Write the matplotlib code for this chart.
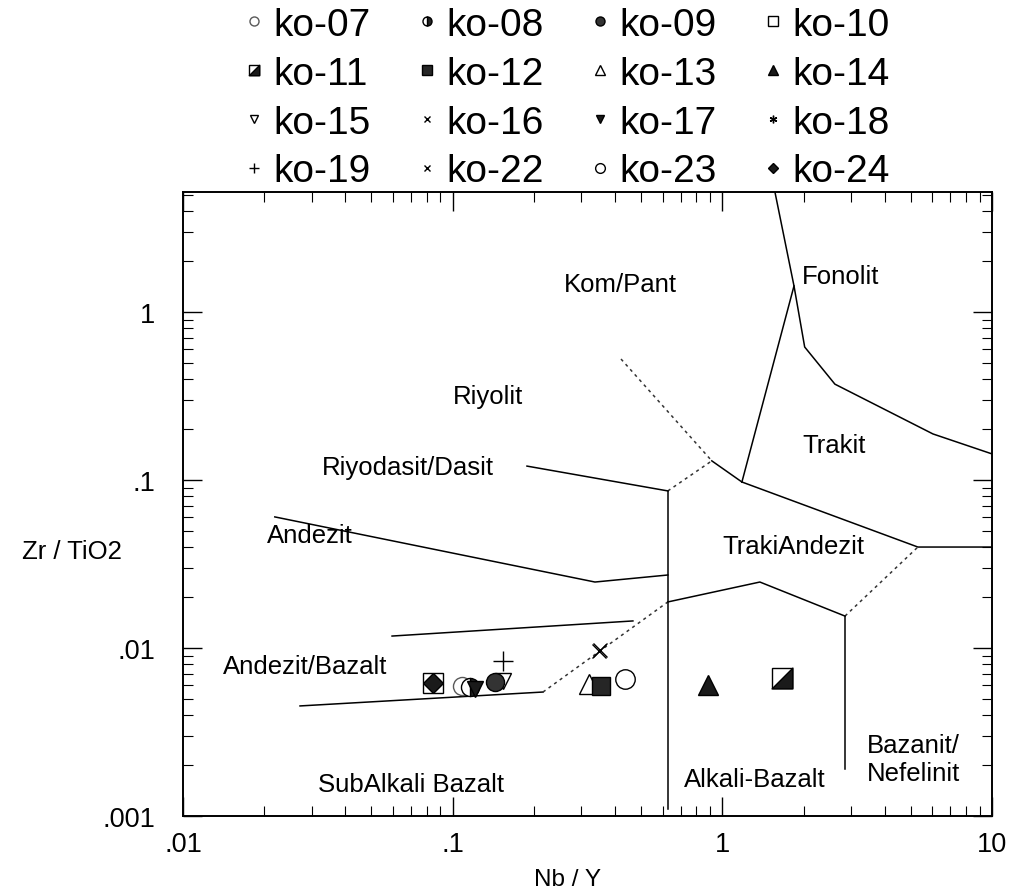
import matplotlib
matplotlib.use('Agg')
import matplotlib.pyplot as plt
from matplotlib.path import Path
from matplotlib.legend_handler import HandlerTuple

plt.rcParams['font.family'] = ['Liberation Sans', 'DejaVu Sans']

# Nb/Y and Zr/TiO2 for each sample
samples = ['ko-07', 'ko-08', 'ko-09', 'ko-10', 'ko-11', 'ko-12', 'ko-13', 'ko-14',
           'ko-15', 'ko-16', 'ko-17', 'ko-18', 'ko-19', 'ko-22', 'ko-23', 'ko-24']
nb_y = [0.108, 0.116, 0.1436, 0.0845, 1.664, 0.355, 0.320, 0.884,
        0.1536, 0.349, 0.121, 0.352, 0.1536, 0.353, 0.435, 0.0845]
zr_tio2 = [0.00594, 0.00586, 0.00628, 0.00620, 0.00663, 0.00594, 0.00610, 0.00603,
           0.00636, 0.00960, 0.00570, 0.00600, 0.00837, 0.00975, 0.00654, 0.00620]

# Winchester & Floyd field boundaries (Nb/Y, Zr/TiO2)
fonolit_x = [1.567, 1.844, 2.02, 2.615, 6.04, 10]
fonolit_y = [5.18, 1.429, 0.619, 0.372, 0.188, 0.143]
trakit_x = [1.844, 1.182]
trakit_y = [1.429, 0.0973]
trakiandezit_top_x = [1.182, 5.31, 10]
trakiandezit_top_y = [0.0973, 0.0399, 0.0399]
kompant_x = [0.421, 0.914]
kompant_y = [0.525, 0.130]
riyolit_step_x = [0.914, 1.182]
riyolit_step_y = [0.130, 0.0973]
riyolit_x = [0.1886, 0.628]
riyolit_y = [0.121, 0.0861]
riyolit_link_x = [0.628, 0.914]
riyolit_link_y = [0.0861, 0.130]
andezit_x = [0.0219, 0.337, 0.628]
andezit_y = [0.0603, 0.0247, 0.0272]
andbaz_x = [0.0596, 0.466]
andbaz_y = [0.01178, 0.01449]
alkali_top_x = [0.628, 1.378, 2.85]
alkali_top_y = [0.0188, 0.0247, 0.01549]
bazanit_link_x = [2.85, 5.31]
bazanit_link_y = [0.01549, 0.0399]
subalk_x = [0.02716, 0.2163]
subalk_y = [0.00452, 0.00547]
subalk_link_x = [0.2163, 0.628]
subalk_link_y = [0.00547, 0.0188]
alkali_left_x = [0.628, 0.628]
alkali_left_y = [0.0861, 0.0011]
bazanit_left_x = [2.85, 2.85]
bazanit_left_y = [0.01549, 0.00191]

fig = plt.figure(figsize=(10.14, 8.95), dpi=100)
ax = fig.add_axes([183/1014, 78/895, 809/1014, 624/895])
ax.set_xscale('log')
ax.set_yscale('log')
ax.set_xlim(0.01, 10)
ax.set_ylim(0.001, 5.18)

solid = dict(color='black', lw=1.1)
dotted = dict(color='0.2', lw=1.1, ls=(0, (2, 2.5)))
ax.plot(fonolit_x, fonolit_y, **solid)
ax.plot(trakit_x, trakit_y, **solid)
ax.plot(trakiandezit_top_x, trakiandezit_top_y, **solid)
ax.plot(kompant_x, kompant_y, **dotted)
ax.plot(riyolit_step_x, riyolit_step_y, **solid)
ax.plot(riyolit_x, riyolit_y, **solid)
ax.plot(riyolit_link_x, riyolit_link_y, **dotted)
ax.plot(andezit_x, andezit_y, **solid)
ax.plot(andbaz_x, andbaz_y, **solid)
ax.plot(alkali_top_x, alkali_top_y, **solid)
ax.plot(bazanit_link_x, bazanit_link_y, **dotted)
ax.plot(subalk_x, subalk_y, **solid)
ax.plot(subalk_link_x, subalk_link_y, **dotted)
ax.plot(alkali_left_x, alkali_left_y, **solid)
ax.plot(bazanit_left_x, bazanit_left_y, **solid)

# half-filled square: lower-right triangle
tri = Path([(1, -1), (1, 1), (-1, -1), (1, -1)], [Path.MOVETO, Path.LINETO, Path.LINETO, Path.CLOSEPOLY])
asterisk = (6, 2, 0)

styles = {
    'ko-07': dict(marker='o', mfc='white', mec='0.35', ms=13, mew=1),
    'ko-08': dict(marker='o', mfc='0.15', mfcalt='white', fillstyle='right', mec='black', ms=13),
    'ko-09': dict(marker='o', mfc='0.2', mec='black', ms=13),
    'ko-10': dict(marker='s', mfc='white', mec='black', ms=15),
    'ko-11': dict(marker='s', mfc='white', mec='black', ms=15),
    'ko-12': dict(marker='s', mfc='0.15', mec='black', ms=13),
    'ko-13': dict(marker='^', mfc='white', mec='black', ms=14),
    'ko-14': dict(marker='^', mfc='0.1', mec='black', ms=14),
    'ko-15': dict(marker='v', mfc='white', mec='black', ms=12),
    'ko-16': dict(marker='x', color='black', ms=10, mew=1),
    'ko-17': dict(marker='v', mfc='0.1', mec='black', ms=12),
    'ko-18': dict(marker=asterisk, color='black', ms=11, mew=1),
    'ko-19': dict(marker='+', color='black', ms=14, mew=1),
    'ko-22': dict(marker='x', color='black', ms=10, mew=1),
    'ko-23': dict(marker='o', mfc='white', mec='black', ms=14),
    'ko-24': dict(marker='D', mfc='0.1', mec='black', ms=10),
}
draw_order = ['ko-10', 'ko-24', 'ko-07', 'ko-08', 'ko-17', 'ko-15', 'ko-09', 'ko-19',
              'ko-13', 'ko-18', 'ko-12', 'ko-16', 'ko-22', 'ko-23', 'ko-14', 'ko-11']
handles = {}
for name in draw_order:
    i = samples.index(name)
    h, = ax.plot([nb_y[i]], [zr_tio2[i]], ls='none', **styles[name])
    handles[name] = h
    if name == 'ko-11':
        t, = ax.plot([nb_y[i]], [zr_tio2[i]], ls='none', marker=tri,
                     mfc='0.1', mec='black', ms=15)
        handles[name] = (h, t)

# rock field names
labels = [
    ('Kom/Pant', 620, 285), ('Fonolit', 841, 277), ('Riyolit', 488, 397),
    ('Trakit', 834, 446), ('Riyodasit/Dasit', 408, 468), ('TrakiAndezit', 793, 547),
    ('Andezit', 310, 536), ('Andezit/Bazalt', 305, 667), ('SubAlkali Bazalt', 411, 785),
    ('Alkali-Bazalt', 755, 780), ('Bazanit/\nNefelinit', 867, 760),
]
for txt, px, py in labels:
    ha = 'left' if txt.startswith('Bazanit') else 'center'
    fig.text(px/1014, 1 - py/895, txt, fontsize=18.5, ha=ha, va='center', linespacing=1.25)

ax.set_xticks([0.01, 0.1, 1, 10])
ax.set_xticklabels(['.01', '.1', '1', '10'])
ax.set_yticks([0.001, 0.01, 0.1, 1])
ax.set_yticklabels(['.001', '.01', '.1', '1'])
ax.tick_params(which='both', direction='in', top=True, right=True, labelsize=19.5)
ax.tick_params(which='major', length=14, width=1)
ax.tick_params(which='minor', length=7, width=0.8)
ax.tick_params(axis='x', which='major', pad=11)
ax.tick_params(axis='y', which='major', pad=20)
for s in ax.spines.values():
    s.set_linewidth(1.4)

fig.text(568/1014, 1 - 880/895, 'Nb / Y', fontsize=17.5, ha='center', va='center')
fig.text(22/1014, 1 - 552/895, 'Zr / TiO2', fontsize=18.5, ha='left', va='center')

# legend laid out row by row in four columns
rows = [['ko-07', 'ko-08', 'ko-09', 'ko-10'],
        ['ko-11', 'ko-12', 'ko-13', 'ko-14'],
        ['ko-15', 'ko-16', 'ko-17', 'ko-18'],
        ['ko-19', 'ko-22', 'ko-23', 'ko-24']]
order = [rows[r][c] for c in range(4) for r in range(4)]
fig.legend([handles[n] for n in order], order, ncol=4, loc='upper left',
           bbox_to_anchor=(244/1014, 1 - 8/895), frameon=False, fontsize=28,
           markerscale=0.5, handlelength=0.5, handletextpad=0.25,
           columnspacing=1.2, labelspacing=0.33, borderpad=0, borderaxespad=0,
           handler_map={tuple: HandlerTuple(ndivide=1, pad=0)})

fig.savefig('out.png', dpi=100)
